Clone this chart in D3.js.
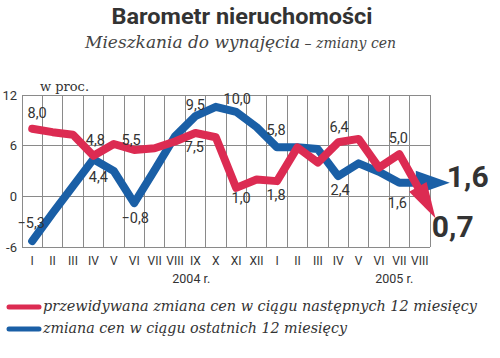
<!DOCTYPE html>
<html><head><meta charset="utf-8">
<script src="https://cdn.jsdelivr.net/npm/d3@7"></script>
<style>
html,body{margin:0;padding:0;background:#fff;}
svg{display:block;}
</style></head>
<body>
<script>
const months = ["I","II","III","IV","V","VI","VII","VIII","IX","X","XI","XII","I","II","III","IV","V","VI","VII","VIII"];
const forecast = [8.0, 7.6, 7.3, 4.8, 6.2, 5.5, 5.7, 6.5, 7.5, 7.0, 1.0, 2.0, 1.8, 5.8, 4.0, 6.4, 6.8, 3.4, 5.0, 0.7];
const actual = [-5.3, -2.0, 1.2, 4.4, 3.0, -0.8, 3.1, 7.1, 9.5, 10.6, 10.0, 8.2, 5.8, 5.8, 5.6, 2.4, 3.9, 2.9, 1.6, 1.6];
const yTicks = [-6, 0, 6, 12];
const years = ["2004 r.", "2005 r."];
const yearIdx = [7.8, 17.75];
const forecastLabelIdx = [0, 3, 5, 8, 10, 12, 15, 18];
const actualLabelIdx = [0, 3, 5, 8, 10, 12, 15, 18];
const seriesNames = ["przewidywana zmiana cen w ciągu następnych 12 miesięcy", "zmiana cen w ciągu ostatnich 12 miesięcy"];
const titleText = "Barometr nieruchomości";
const subtitleMain = "Mieszkania do wynajęcia";
const subtitleRest = " – zmiany cen";
const unitText = "w proc.";

const W = 500, H = 358;
const RED = "#dc2b52", BLUE = "#1a5fa6", TXT = "#333";
const svg = d3.select("body").append("svg").attr("width", W).attr("height", H);

const x = d3.scaleBand().domain(d3.range(months.length)).range([22, 430]).padding(0);
const y = d3.scaleLinear().domain([-6, 12]).range([247, 95]);
const cx = i => x(i) + x.bandwidth() / 2;
const fmt = v => d3.format(".1f")(v).replace(".", ",");

// title
svg.append("text").attr("x", 242).attr("y", 24).attr("text-anchor", "middle")
  .attr("font-family", "Roboto, sans-serif").attr("font-weight", 700).attr("font-size", 22)
  .attr("fill", TXT).attr("textLength", 261).attr("lengthAdjust", "spacingAndGlyphs").text(titleText);
const sub = svg.append("text").attr("x", 85).attr("y", 48)
  .attr("font-family", "'DejaVu Serif', serif").attr("font-style", "italic").attr("fill", "#444");
sub.append("tspan").attr("font-size", 17).text(subtitleMain);
sub.append("tspan").attr("font-size", 14).text(subtitleRest);
svg.append("text").attr("x", 40).attr("y", 91)
  .attr("font-family", "'DejaVu Serif', serif").attr("font-size", 13).attr("fill", TXT).text(unitText);

// grid
const grid = svg.append("g").attr("stroke", "#8a8a8a").attr("stroke-width", 1).attr("shape-rendering", "crispEdges");
grid.selectAll("line.v").data(d3.range(months.length + 1)).join("line")
  .attr("x1", i => i < months.length ? x(i) : x.range()[1])
  .attr("x2", i => i < months.length ? x(i) : x.range()[1])
  .attr("y1", y(12)).attr("y2", y(-6));
grid.selectAll("line.h").data(yTicks).join("line")
  .attr("x1", x.range()[0]).attr("x2", x.range()[1])
  .attr("y1", d => y(d)).attr("y2", d => y(d));

// y axis
const yAxis = svg.append("g").attr("transform", `translate(${x.range()[0]},0)`)
  .call(d3.axisLeft(y).tickValues(yTicks).tickSize(0).tickPadding(5).tickFormat(d => d));
yAxis.select(".domain").remove();
yAxis.selectAll("text").attr("font-family", "Roboto, sans-serif").attr("font-size", 13).attr("fill", TXT);

// x axis
const xAxis = svg.append("g").attr("transform", `translate(0,${y(-6)})`)
  .call(d3.axisBottom(x).tickSize(0).tickPadding(9).tickFormat(i => months[i]));
xAxis.select(".domain").remove();
xAxis.selectAll("text").attr("font-family", "Roboto, sans-serif").attr("font-size", 12).attr("fill", TXT);
svg.selectAll("text.year").data(years).join("text").attr("class", "year")
  .attr("x", (d, i) => cx(0) + yearIdx[i] * x.step()).attr("y", 283).attr("text-anchor", "middle")
  .attr("font-family", "Roboto, sans-serif").attr("font-size", 12.5).attr("fill", TXT).text(d => d);

// lines
const line = d3.line().x((d, i) => cx(i)).y(d => y(d));
function drawSeries(vals, color, len, halfW) {
  svg.append("path").datum(vals).attr("d", line).attr("fill", "none").attr("stroke", color)
    .attr("stroke-width", 8).attr("stroke-linejoin", "round").attr("stroke-linecap", "round");
  const n = vals.length;
  const x0 = cx(n - 2), y0 = y(vals[n - 2]), x1 = cx(n - 1), y1 = y(vals[n - 1]);
  const dx = x1 - x0, dy = y1 - y0, L = Math.hypot(dx, dy);
  const ux = dx / L, uy = dy / L, px = -uy, py = ux;
  const bx = x1 - ux * 4, by = y1 - uy * 4;
  const pts = [[bx + px * halfW, by + py * halfW], [bx + ux * len, by + uy * len], [bx - px * halfW, by - py * halfW]];
  svg.append("polygon").attr("points", pts.map(p => p.join(",")).join(" ")).attr("fill", color);
}
drawSeries(actual, BLUE, 34, 12);
drawSeries(forecast, RED, 36, 10);

// data labels
const lblStyle = s => s.attr("font-family", "Roboto, sans-serif").attr("font-size", 14.5).attr("fill", TXT).attr("text-anchor", "middle");
const fOff = [[5,-11],[2,-11],[-3,-5],[-1,19],[5,15],[-1,19],[1,-10],[-1,-11]];
const aOff = [[-1,-13],[5,23],[1,20],[0,-6],[1,-8],[-1,-12],[2,19],[-2,25]];
svg.selectAll("text.fl").data(forecastLabelIdx).join("text").attr("class", "fl").call(lblStyle)
  .attr("x", (d, k) => cx(d) + fOff[k][0]).attr("y", (d, k) => y(forecast[d]) + fOff[k][1]).text(d => fmt(forecast[d]));
svg.selectAll("text.al").data(actualLabelIdx).join("text").attr("class", "al").call(lblStyle)
  .attr("x", (d, k) => cx(d) + aOff[k][0]).attr("y", (d, k) => y(actual[d]) + aOff[k][1]).text(d => fmt(actual[d]));
const last = months.length - 1;
svg.append("text").attr("x", cx(last) + 27).attr("y", y(actual[last]) + 4)
  .attr("font-family", "Roboto, sans-serif").attr("font-weight", 700).attr("font-size", 30).attr("fill", TXT)
  .text(fmt(actual[last]));
svg.append("text").attr("x", cx(last) + 12).attr("y", y(forecast[last]) + 47)
  .attr("font-family", "Roboto, sans-serif").attr("font-weight", 700).attr("font-size", 30).attr("fill", TXT)
  .text(fmt(forecast[last]));

// legend
const leg = svg.append("g");
[RED, BLUE].forEach((c, i) => {
  const yy = 307 + i * 22;
  leg.append("line").attr("x1", 9).attr("x2", 39).attr("y1", yy).attr("y2", yy)
    .attr("stroke", c).attr("stroke-width", 5).attr("stroke-linecap", "round");
  leg.append("text").attr("x", 43).attr("y", yy + 4).attr("font-family", "'DejaVu Serif', serif")
    .attr("font-style", "italic").attr("font-size", 15).attr("fill", TXT)
    .attr("textLength", i === 0 ? 434 : 304).attr("lengthAdjust", "spacingAndGlyphs").text(seriesNames[i]);
});
</script>
</body></html>
